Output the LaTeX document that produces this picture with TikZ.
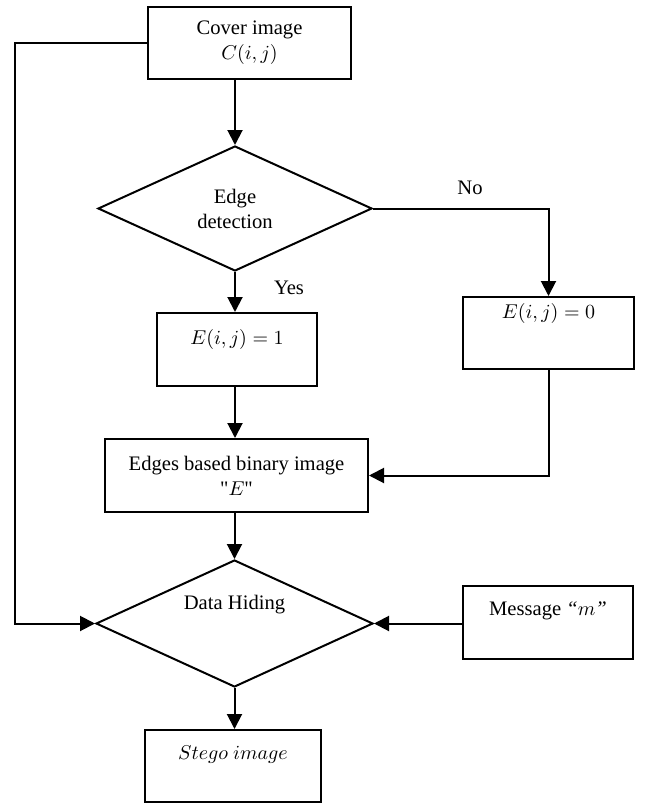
\documentclass[tikz,border=0pt]{standalone}
\usepackage{fontspec}
\setmainfont{Liberation Serif}
\usetikzlibrary{shapes.geometric, arrows.meta}

\begin{document}
\begin{tikzpicture}[x=0.5pt, y=-0.5pt,
    line width=1pt,
    box/.style={draw, rectangle, inner sep=0pt},
    decision/.style={draw, diamond, aspect=2.2, inner sep=0pt, align=center},
    arr/.style={-{Triangle[length=7.5pt,width=7.5pt]}},
    font=\fontsize{10.3pt}{12.5pt}\selectfont]
\useasboundingbox (0,0) rectangle (649,803);

% boxes
\node[box, minimum width=101.5pt, minimum height=36pt, align=center] (cover) at (249.5,43) {Cover image\\$C(i,j)$};
\node[decision, minimum width=137pt, minimum height=62.5pt] (edge) at (235,208.5) {Edge\\detection};
\node[box, minimum width=80pt, minimum height=36.5pt] (eone) at (237,349.5) {};
\node[box, minimum width=85.5pt, minimum height=36pt] (ezero) at (548.5,333) {};
\node[box, minimum width=131.5pt, minimum height=36.5pt, align=center] (edges) at (236.5,475.5) {Edges based binary image\\\textquotedbl$E$\textquotedbl};
\node[decision, minimum width=138.5pt, minimum height=63.5pt] (hide) at (234.5,623.5) {};
\node[box, minimum width=85pt, minimum height=36.5pt] (msg) at (548,622.5) {};
\node[box, minimum width=88pt, minimum height=36pt] (stego) at (233,766) {};

% texts
\node (eonetxt) at (237,339) {$E(i,j) = 1$};
\node (ezerotxt) at (548.5,313) {$E(i,j) = 0$};
\node (hidetxt) at (234.5,605) {Data Hiding};
\node (msgtxt) at (548,611) {Message \textit{“}$m$\textit{”}};
\node (stegotxt) at (233,755) {$Stego\ image$};

% labels
\node (no) at (470,188) {No};
\node (yes) at (289,288) {Yes};

% connectors
\coordinate (lft) at (15,42);
\draw[arr] (cover.south -| edge.north) -- (edge.north);
\draw[arr] (edge.south) -- (edge.south |- eone.north);
\draw[arr] (edge.east) -| (ezero.north);
\draw[arr] (eone.south -| edge.south) -- (edge.south |- edges.north);
\draw[arr] (ezero.south) |- (edges.east);
\draw[arr] (hide.north |- edges.south) -- (hide.north);
\draw[arr] (cover.west) -- (cover.west -| lft) |- (hide.west);
\draw[arr] (hide.east -| msg.west) -- (hide.east);
\draw[arr] (hide.south) -- (hide.south |- stego.north);

\end{tikzpicture}
\end{document}
